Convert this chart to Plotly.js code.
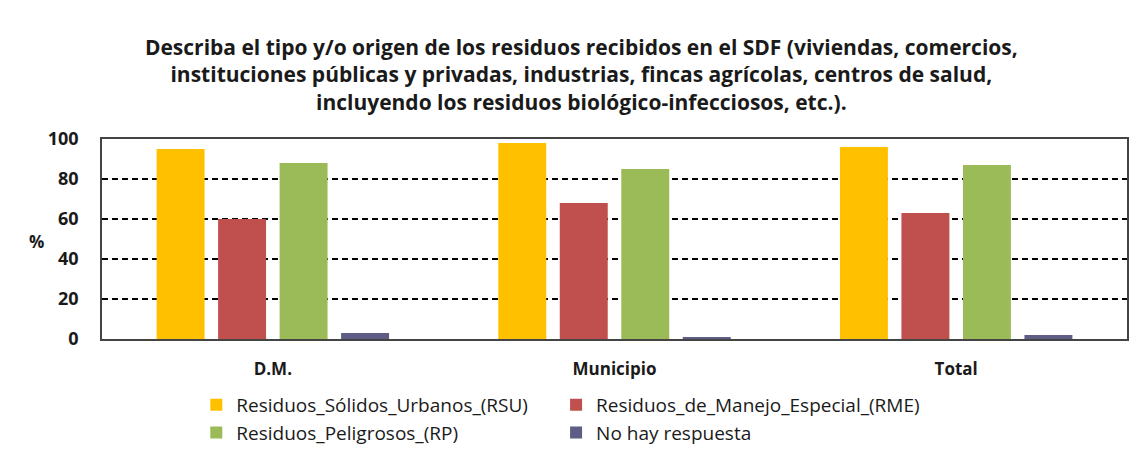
<!DOCTYPE html>
<html>
<head>
<meta charset="utf-8">
<script src="https://cdn.plot.ly/plotly-3.0.1.min.js"></script>
<style>
  html, body { margin: 0; padding: 0; background: #ffffff; }
  #chart { width: 1131px; height: 455px; }
</style>
</head>
<body>
<div id="chart"></div>
<script>
const categories = ['D.M.', 'Municipio', 'Total'];
const seriesNames = [
  'Residuos_Sólidos_Urbanos_(RSU)',
  'Residuos_de_Manejo_Especial_(RME)',
  'Residuos_Peligrosos_(RP)',
  'No hay respuesta'
];
const rsu = [95, 98, 96];
const rme = [60, 68, 63];
const rp = [88, 85, 87];
const noAnswer = [3, 1, 2];
const seriesColors = ['#ffc000', '#c0504d', '#9bbb59', '#5d5d86'];
const yTicks = [0, 20, 40, 60, 80, 100];

const font = 'Open Sans, Liberation Sans, sans-serif';

// legend is laid out as two columns: RSU / RP on the left, RME / no answer on the right
const legendFor = ['legend', 'legend2', 'legend', 'legend2'];

const traces = [rsu, rme, rp, noAnswer].map((values, i) => ({
  x: categories,
  y: values,
  name: seriesNames[i],
  type: 'bar',
  legend: legendFor[i],
  marker: { color: seriesColors[i] },
  hoverinfo: 'y+name'
}));

const legendBase = {
  orientation: 'v',
  xanchor: 'left',
  y: -0.228,
  yanchor: 'top',
  itemwidth: 30,
  font: { size: 19, family: font, color: '#1a1a1a' },
  tracegroupgap: 0,
  traceorder: 'normal'
};

Plotly.newPlot('chart', traces, {
  width: 1131,
  height: 455,
  paper_bgcolor: '#ffffff',
  plot_bgcolor: '#ffffff',
  font: { family: font, color: '#1a1a1a' },
  margin: { l: 102, r: 4, t: 139, b: 115 },
  barmode: 'group',
  bargap: 0.28,
  bargroupgap: 0.22,
  title: {
    text: '<b>Describa el tipo y/o origen de los residuos recibidos en el SDF (viviendas, comercios,<br>instituciones públicas y privadas, industrias, fincas agrícolas, centros de salud,<br>incluyendo los residuos biológico-infecciosos, etc.).</b>',
    x: 0.514,
    xanchor: 'center',
    y: 0.879,
    yanchor: 'middle',
    font: { size: 21, family: font, color: '#1a1a1a' }
  },
  xaxis: {
    showline: true,
    linecolor: '#444444',
    linewidth: 1.5,
    mirror: true,
    ticks: '',
    ticklabelstandoff: 14,
    tickfont: { size: 17, family: font, color: '#1a1a1a', weight: 'bold' },
    fixedrange: true
  },
  yaxis: {
    range: [0, 100],
    tickvals: yTicks,
    showline: true,
    linecolor: '#444444',
    linewidth: 1.5,
    mirror: true,
    showgrid: true,
    gridcolor: '#000000',
    griddash: '6px,4px',
    gridwidth: 1.5,
    zeroline: false,
    ticks: 'outside',
    ticklen: 18,
    tickcolor: 'rgba(0,0,0,0)',
    tickfont: { size: 18, family: font, color: '#1a1a1a', weight: 'bold' },
    fixedrange: true
  },
  legend: { ...legendBase, x: 0.092 },
  legend2: { ...legendBase, x: 0.443 },
  annotations: [{
    text: '<b>%</b>',
    xref: 'paper',
    yref: 'paper',
    x: -0.073,
    y: 0.49,
    showarrow: false,
    font: { size: 17, family: font, color: '#1a1a1a' }
  }]
}, { displayModeBar: false, responsive: false });
</script>
</body>
</html>
